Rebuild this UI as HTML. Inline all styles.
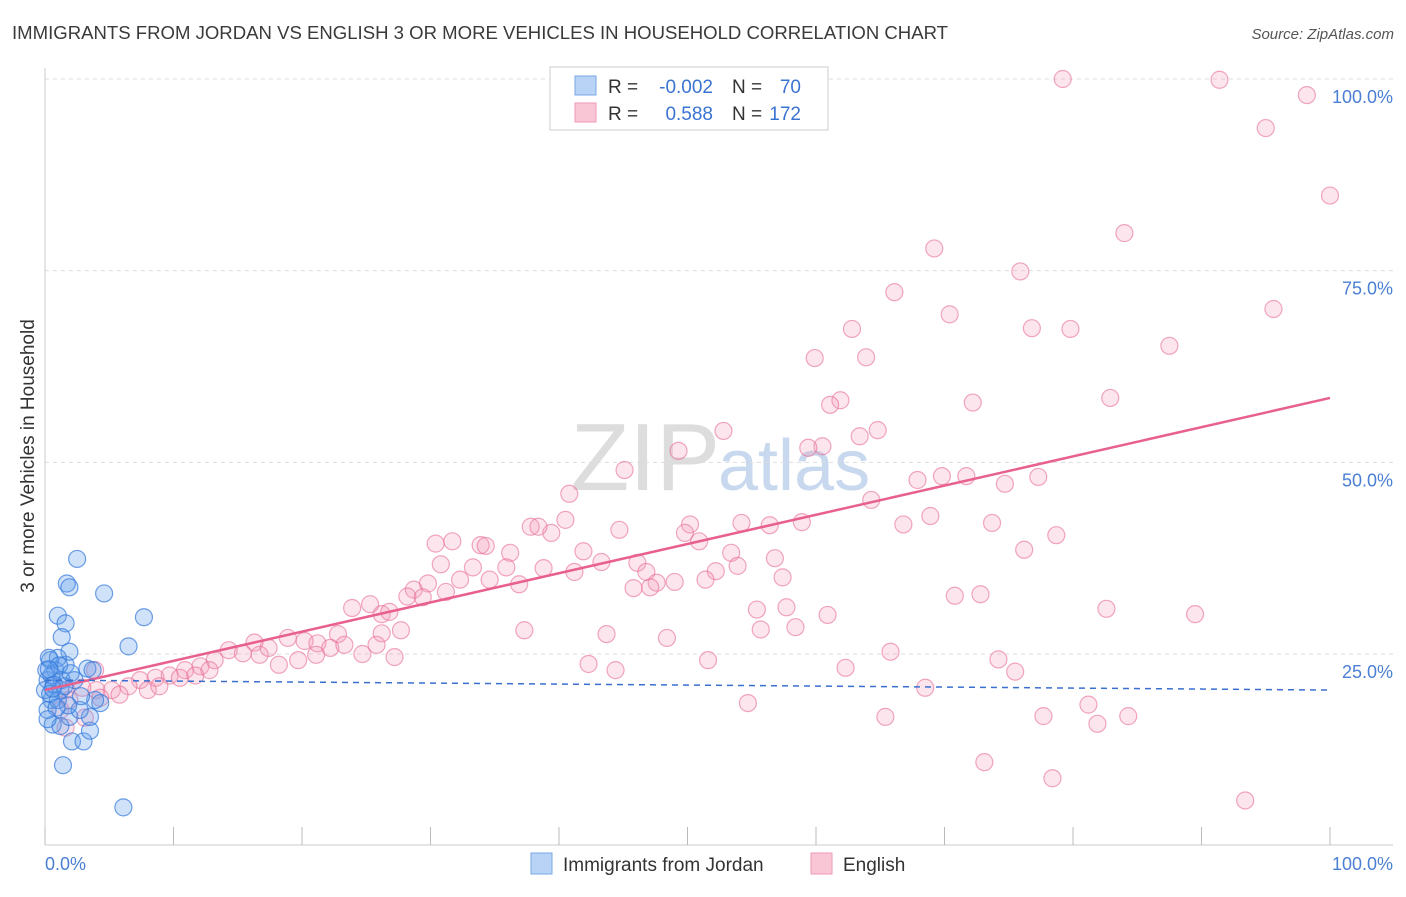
<!DOCTYPE html>
<html><head><meta charset="utf-8"><style>
body{margin:0;background:#fff;font-family:"Liberation Sans",sans-serif;}
svg text{font-family:"Liberation Sans",sans-serif;}
</style></head><body>
<svg id="chart" width="1406" height="892" xmlns="http://www.w3.org/2000/svg">
<text x="12" y="39" font-size="18" fill="#3a3a3a" textLength="936" lengthAdjust="spacingAndGlyphs">IMMIGRANTS FROM JORDAN VS ENGLISH 3 OR MORE VEHICLES IN HOUSEHOLD CORRELATION CHART</text>
<text x="1394" y="39" font-size="15" fill="#555" text-anchor="end" font-style="italic">Source: ZipAtlas.com</text>
<text x="720" y="490" font-size="96" fill="#ddd" text-anchor="end" font-family="Liberation Serif">ZIP</text>
<text x="718" y="490" font-size="72" fill="#c8d8ee">atlas</text>
<g id="grid"></g><g id="axes"></g><g id="pts"></g><g id="lines"></g>
<text transform="translate(34,456) rotate(-90)" font-size="19" fill="#333" text-anchor="middle">3 or more Vehicles in Household</text>
<text x="45" y="870" font-size="18" fill="#4a7fd4">0.0%</text>
<text x="1393" y="870" font-size="18" fill="#4a7fd4" text-anchor="end">100.0%</text>
<g>
<rect x="550" y="67" width="278" height="63" fill="#fff" stroke="#ccc"/>
<rect x="575" y="76" width="21" height="19" fill="#b8d3f5" stroke="#7aa8e6"/>
<rect x="575" y="103" width="21" height="19" fill="#f9c6d6" stroke="#ee9ab6"/>
<text x="608" y="93" font-size="19" fill="#333">R =</text>
<text x="713" y="93" font-size="19" fill="#3a73d1" text-anchor="end">-0.002</text>
<text x="732" y="93" font-size="19" fill="#333">N =</text>
<text x="801" y="93" font-size="19" fill="#3a73d1" text-anchor="end">70</text>
<text x="608" y="120" font-size="19" fill="#333">R =</text>
<text x="713" y="120" font-size="19" fill="#3a73d1" text-anchor="end">0.588</text>
<text x="732" y="120" font-size="19" fill="#333">N =</text>
<text x="801" y="120" font-size="19" fill="#3a73d1" text-anchor="end">172</text>
</g>
<g><rect x="531" y="853" width="21" height="21" fill="#b8d3f5" stroke="#7aa8e6"/><text x="563" y="871" font-size="19" fill="#333">Immigrants from Jordan</text></g>
<g><rect x="811" y="853" width="21" height="21" fill="#f9c6d6" stroke="#ee9ab6"/><text x="843" y="871" font-size="19" fill="#333">English</text></g>
</svg>
<script>
const yTicks=[25,50,75,100];
const yTickLabels=["25.0%","50.0%","75.0%","100.0%"];
const xTicks=[0,10,20,30,40,50,60,70,80,90,100];
const pinkX=[79.2,91.4,98.2,95.0,100,84.0,69.2,75.9,66.1,95.6,70.4,62.8,76.8,79.8,87.5,59.9,63.9,61.9,61.1,72.2,82.9,52.8,64.8,63.4,60.5,59.4,49.3,45.1,69.8,67.9,71.7,77.3,74.7,64.3,40.8,40.5,37.8,39.4,38.4,50.2,54.2,56.4,58.9,68.9,66.8,73.7,44.7,49.8,50.9,30.4,31.7,33.9,34.3,36.2,41.9,76.2,78.7,53.4,56.8,43.3,46.1,30.8,33.3,35.9,38.8,41.2,46.8,52.2,53.9,32.3,34.6,36.9,47.6,49.0,51.4,57.4,45.8,47.1,29.8,28.7,28.2,29.4,31.2,26.2,25.3,23.9,26.8,70.8,72.8,55.4,57.7,60.9,82.6,89.5,27.7,26.2,22.8,37.3,43.7,48.4,55.7,58.4,18.9,20.2,21.2,22.2,23.3,16.3,17.4,25.8,16.7,14.3,15.4,13.2,12.1,18.2,19.7,21.1,24.7,27.2,42.3,44.4,51.6,62.3,65.8,74.2,75.5,10.9,9.7,8.6,7.4,6.5,5.2,4.0,2.9,1.6,1.2,1.9,4.3,5.8,8.0,8.9,10.5,11.7,12.8,3.9,54.7,68.5,81.2,77.7,84.3,65.4,81.9,73.1,78.4,93.4,1.6,3.1];
const pinkY=[100,99.9,97.9,93.6,84.8,79.9,77.9,74.9,72.2,70.0,69.3,67.4,67.5,67.4,65.2,63.6,63.7,58.1,57.5,57.8,58.4,54.1,54.2,53.4,52.1,51.9,51.5,49.0,48.2,47.7,48.2,48.1,47.2,45.1,45.9,42.5,41.6,40.8,41.6,41.9,42.1,41.8,42.2,43.0,41.9,42.1,41.2,40.8,39.7,39.4,39.7,39.2,39.1,38.2,38.4,38.6,40.5,38.2,37.5,37.0,36.9,36.7,36.3,36.3,36.2,35.7,35.7,35.8,36.5,34.7,34.7,34.1,34.3,34.4,34.7,35.0,33.6,33.7,34.2,33.4,32.5,32.4,33.1,30.2,31.5,31.0,30.5,32.6,32.8,30.8,31.1,30.1,30.9,30.2,28.1,27.7,27.6,28.1,27.6,27.1,28.2,28.5,27.1,26.7,26.4,25.8,26.2,26.5,25.8,26.2,24.9,25.5,25.1,24.2,23.4,23.6,24.2,24.9,25.0,24.6,23.7,22.9,24.2,23.2,25.3,24.3,22.7,22.9,22.2,21.9,21.6,20.8,20.3,20.3,20.6,20.3,17.7,19.0,19.3,19.7,20.3,20.8,21.9,22.2,22.9,22.9,18.6,20.6,18.4,16.9,16.9,16.8,15.9,10.9,8.8,5.9,15.4,16.7];
const blueX=[2.5,1.7,1.9,4.6,1.0,1.6,1.3,7.7,6.5,6.1,1.4,2.1,3.0,3.5,0.6,1.2,1.9,3.5,4.3,3.9,0.5,1.2,0.2,0.8,1.6,1.9,3.3,3.7,0.4,1.0,0,0.2,2.3,2.7,1.0,1.8,0.5,1.3,0.1,0.3,0.7,1.1,0.4,0.9,1.5,2.0,0.2,0.6,2.8,0.3];
const blueY=[37.4,34.2,33.7,32.9,30.0,29.0,27.2,29.8,26.0,5.0,10.5,13.6,13.6,15.0,15.8,15.6,16.8,16.8,18.6,19.0,19.0,20.3,21.6,22.9,23.6,25.3,23.1,22.9,24.2,24.5,20.3,17.7,21.6,17.7,19.0,18.3,22.2,21.6,22.9,24.5,21.0,23.5,19.8,18.0,20.8,22.5,16.5,20.5,19.5,23.0];
const pinkTrend=[20.3,58.4];
const blueTrend=[21.6,20.3];
const NS="http://www.w3.org/2000/svg";
const x0=45,x1=1330,yb=845.7,yt=79;
const sx=v=>x0+(x1-x0)*v/100;
const sy=v=>yb-(yb-yt)*v/100;
function mk(tag,attrs,parent){const e=document.createElementNS(NS,tag);for(const k in attrs)e.setAttribute(k,attrs[k]);parent.appendChild(e);return e;}
const grid=document.getElementById('grid'),axes=document.getElementById('axes'),pts=document.getElementById('pts'),lines=document.getElementById('lines');
yTicks.forEach((t,i)=>{
 const l=mk('line',{x1:45,x2:1393,y1:sy(t),y2:sy(t),stroke:'#ddd','stroke-dasharray':'4,4'},grid);
 
 
 const tx=mk('text',{x:1393,y:sy(t)+24,'font-size':18,fill:'#4a7fd4','text-anchor':'end'},grid);
 tx.textContent=yTickLabels[i];
 
 
});
const ax=mk('line',{x1:45,x2:1393,y1:845,y2:845,stroke:'#ccc'},axes);


const ay=mk('line',{x1:45,x2:45,y1:68,y2:845,stroke:'#ccc'},axes);


xTicks.forEach(t=>{
 const l=mk('line',{x1:sx(t),x2:sx(t),y1:827,y2:845,stroke:'#bbb'},axes);
 
 
});
pinkX.forEach((v,i)=>{
 const c=mk('circle',{cx:sx(v),cy:sy(pinkY[i]),r:8.5,fill:'rgba(244,150,180,0.25)',stroke:'rgba(232,110,150,0.6)','stroke-width':1.2},pts);
 
 
});
blueX.forEach((v,i)=>{
 const c=mk('circle',{cx:sx(v),cy:sy(blueY[i]),r:8.5,fill:'rgba(100,160,235,0.3)',stroke:'rgba(50,120,220,0.7)','stroke-width':1.2},pts);
 
 
});
const pl=mk('line',{x1:sx(0),y1:sy(pinkTrend[0]),x2:sx(100),y2:sy(pinkTrend[1]),stroke:'#e8608e','stroke-width':2.5},lines);


const bl=mk('line',{x1:sx(0),y1:sy(blueTrend[0]),x2:sx(100),y2:sy(blueTrend[1]),stroke:'#3a6fd0','stroke-width':1.5,'stroke-dasharray':'6,5'},lines);


</script>
</body></html>
